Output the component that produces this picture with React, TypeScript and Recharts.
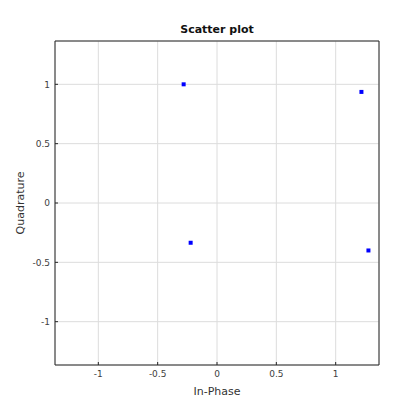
import { CartesianGrid, Scatter, ScatterChart, XAxis, YAxis } from "recharts";

const inPhase = [-0.281, 1.217, -0.222, 1.276];
const quadrature = [1.0, 0.936, -0.335, -0.4];
const tickValues = [-1, -0.5, 0, 0.5, 1];
const axisLimit = 1.365;

const points = inPhase.map((x, i) => ({ x, y: quadrature[i] }));

const ink = "#262626";
const font = "DejaVu Sans, sans-serif";

function BottomTick(props: any) {
  const { x, y, payload } = props;
  return (
    <g>
      <line x1={x} x2={x} y1={y - 6} y2={y - 9} stroke={ink} />
      <text x={x} y={y} dy="0.71em" textAnchor="middle" fontSize={9} fill="#404040" fontFamily={font}>
        {payload.value}
      </text>
    </g>
  );
}

function LeftTick(props: any) {
  const { x, y, payload } = props;
  return (
    <g>
      <line x1={x + 5} x2={x + 8} y1={y} y2={y} stroke={ink} />
      <text x={x} y={y} dy="0.355em" textAnchor="end" fontSize={9} fill="#404040" fontFamily={font}>
        {payload.value}
      </text>
    </g>
  );
}

function Marker(props: any) {
  const { cx, cy } = props;
  return <rect x={cx - 2} y={cy - 2} width={4} height={4} fill="#0000ff" />;
}

export default function App() {
  return (
    <div style={{ position: "absolute", left: 0, top: 0, width: 420, height: 420, background: "#fff" }}>
      <div
        style={{
          position: "absolute",
          left: 55,
          top: 23,
          width: 324,
          textAlign: "center",
          fontFamily: font,
          fontWeight: "bold",
          fontSize: 11,
          lineHeight: "14px",
          color: "#111",
        }}
      >
        Scatter plot
      </div>
      <ScatterChart width={420} height={420} margin={{ top: 41, right: 41, bottom: 0, left: 0 }}>
        <CartesianGrid stroke="#dcdcdc" xAxisId="main" yAxisId="main" />
        <XAxis
          type="number"
          dataKey="x"
          xAxisId="main"
          domain={[-axisLimit, axisLimit]}
          ticks={tickValues}
          allowDataOverflow
          height={55}
          stroke={ink}
          tickSize={0}
          tickMargin={6}
          tickLine={false}
          tick={BottomTick}
          label={{
            content: (p: any) => (
              <text
                x={p.viewBox.x + p.viewBox.width / 2}
                y={p.viewBox.y + 26}
                dy="0.355em"
                textAnchor="middle"
                fontSize={11}
                fill="#333"
                fontFamily={font}
              >
                In-Phase
              </text>
            ),
          }}
        />
        <XAxis
          type="number"
          dataKey="x"
          xAxisId="top"
          orientation="top"
          mirror
          domain={[-axisLimit, axisLimit]}
          ticks={tickValues}
          allowDataOverflow
          height={0.01}
          stroke={ink}
          tickSize={3}
          tick={false}
        />
        <YAxis
          type="number"
          dataKey="y"
          yAxisId="main"
          domain={[-axisLimit, axisLimit]}
          ticks={tickValues}
          allowDataOverflow
          width={55}
          stroke={ink}
          tickSize={0}
          tickMargin={5}
          tickLine={false}
          tick={LeftTick}
          label={{
            content: (p: any) => {
              const cx = 20;
              const cy = p.viewBox.y + p.viewBox.height / 2;
              return (
                <text
                  x={cx}
                  y={cy}
                  dy="0.355em"
                  textAnchor="middle"
                  fontSize={11}
                  fill="#333"
                  fontFamily={font}
                  transform={`rotate(-90 ${cx} ${cy})`}
                >
                  Quadrature
                </text>
              );
            },
          }}
        />
        <YAxis
          type="number"
          dataKey="y"
          yAxisId="right"
          orientation="right"
          mirror
          domain={[-axisLimit, axisLimit]}
          ticks={tickValues}
          allowDataOverflow
          width={0.01}
          stroke={ink}
          tickSize={3}
          tick={false}
        />
        <Scatter
          data={points}
          xAxisId="main"
          yAxisId="main"
          shape={Marker}
          isAnimationActive={false}
        />
      </ScatterChart>
    </div>
  );
}
